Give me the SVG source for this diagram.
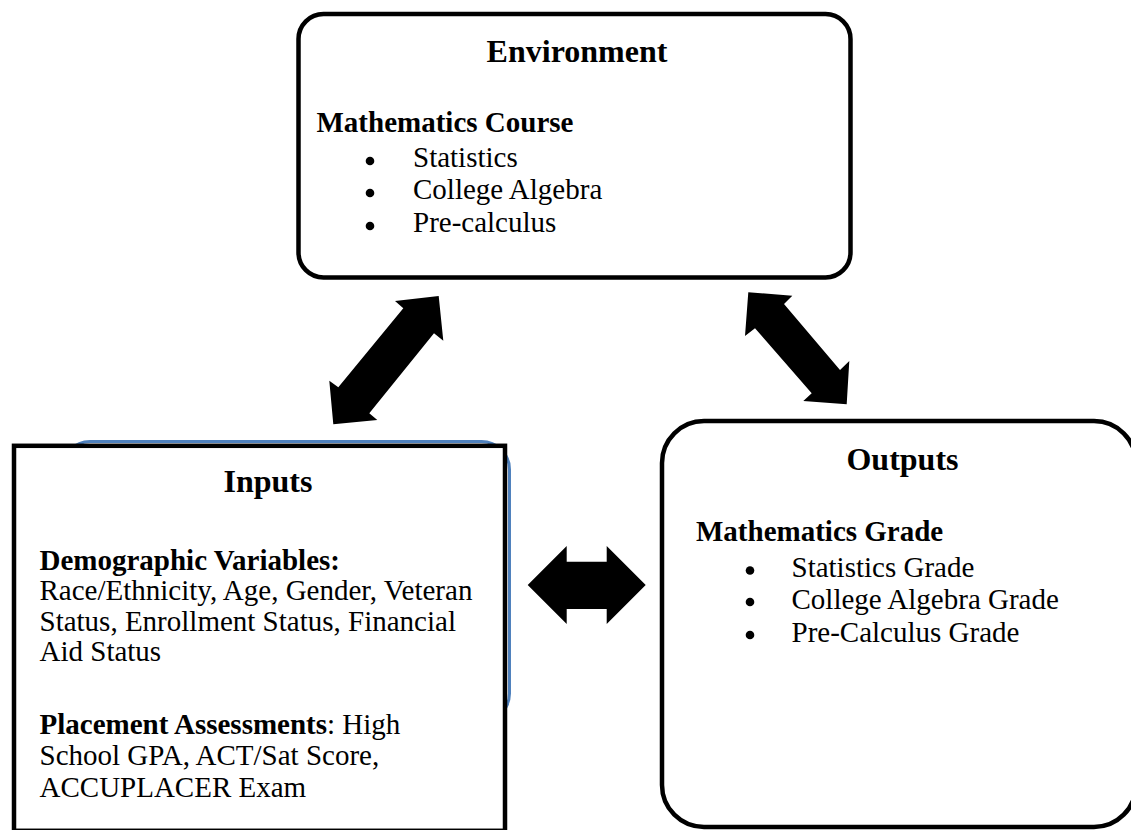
<svg xmlns="http://www.w3.org/2000/svg" width="1131" height="830" viewBox="0 0 1131 830">
<style>
text{font-family:"Liberation Serif","Times New Roman",serif;fill:#000}
.t{font-size:32px;font-weight:bold;text-anchor:middle}
.h{font-size:29px;font-weight:bold}
.b{font-size:29px}
.box{fill:#fff;stroke:#000;stroke-width:4.5}
.arr{fill:#000;stroke:none}
.dot{fill:#000}
</style>
<rect width="1131" height="830" fill="#fff"/>
<g id="connectors">
<polygon class="arr" points="395,301 403.3,308.3 338.3,387.3 329.3,380.7 333.3,424.3 377.3,420 369.3,413.3 434,333.3 443.3,340.7 438.7,296"/>
<polygon class="arr" points="748.3,292.3 792.3,295.7 784,304 840,370 849.3,361 846.7,404.3 803.3,401 811.7,393.3 755,328.3 745,336"/>
<polygon class="arr" points="527.7,585 566.7,546 566.7,561.7 606.7,561.7 606.7,546 645.7,585 606.7,624 606.7,609 566.7,609 566.7,624"/>
</g>
<g id="environment">
<rect class="box" x="298.5" y="14" width="552" height="263.5" rx="25" ry="25"/>
<text class="t" x="577" y="61.5">Environment</text>
<text class="h" x="316.5" y="131.5">Mathematics Course</text>
<circle class="dot" cx="370" cy="161" r="4.3"/>
<text class="b" x="413" y="166.5">Statistics</text>
<circle class="dot" cx="370" cy="193" r="4.3"/>
<text class="b" x="413" y="198.5">College Algebra</text>
<circle class="dot" cx="370" cy="226" r="4.3"/>
<text class="b" x="413" y="231.5">Pre-calculus</text>
</g>
<g id="inputs">
<rect x="62" y="441.5" width="447.5" height="280" rx="28" ry="28" fill="#fff" stroke="#4F81BD" stroke-width="3"/>
<rect class="box" x="14" y="445.8" width="491" height="385" fill="#fff"/>
<text class="t" x="268" y="491.5">Inputs</text>
<text class="h" x="39.5" y="569.5">Demographic Variables:</text>
<text class="b" x="39.5" y="600">Race/Ethnicity, Age, Gender, Veteran</text>
<text class="b" x="39.5" y="630.5">Status, Enrollment Status, Financial</text>
<text class="b" x="39.5" y="660.5">Aid Status</text>
<text class="b" x="39.5" y="734"><tspan font-weight="bold">Placement Assessments</tspan>: High</text>
<text class="b" x="39.5" y="765">School GPA, ACT/Sat Score,</text>
<text class="b" x="39.5" y="797">ACCUPLACER Exam</text>
</g>
<g id="outputs">
<rect class="box" x="662" y="421" width="474" height="406" rx="42" ry="42"/>
<text class="t" x="902.5" y="470">Outputs</text>
<text class="h" x="696" y="540.5">Mathematics Grade</text>
<circle class="dot" cx="750" cy="570.5" r="4.3"/>
<text class="b" x="791.5" y="576.5">Statistics Grade</text>
<circle class="dot" cx="750" cy="602" r="4.3"/>
<text class="b" x="791.5" y="608.5">College Algebra Grade</text>
<circle class="dot" cx="750" cy="635" r="4.3"/>
<text class="b" x="791.5" y="641.5">Pre-Calculus Grade</text>
</g>
</svg>
